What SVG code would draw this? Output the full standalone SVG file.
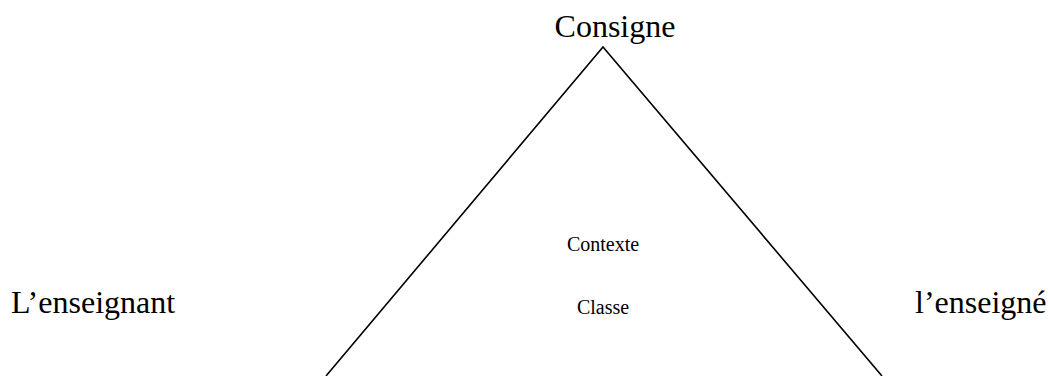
<svg xmlns="http://www.w3.org/2000/svg" width="1048" height="376" viewBox="0 0 1048 376">
<style>
.big{font-family:"Liberation Serif","Times New Roman",serif;font-size:32px;fill:#000}
.small{font-family:"Liberation Serif","Times New Roman",serif;font-size:20px;fill:#000}
.edge{fill:none;stroke:#000;stroke-width:1.6}
</style>
<rect width="1048" height="376" fill="#fff"/>
<g id="connectors">
<polyline class="edge" points="326,376 603,47 882,376"/>
</g>
<g id="consigne"><text class="big" x="615" y="37" text-anchor="middle">Consigne</text></g>
<g id="enseignant"><text class="big" x="11" y="313">L’enseignant</text></g>
<g id="enseigne"><text class="big" x="915" y="313">l’enseigné</text></g>
<g id="contexte"><text class="small" x="603" y="251" text-anchor="middle">Contexte</text></g>
<g id="classe"><text class="small" x="603" y="314" text-anchor="middle">Classe</text></g>
</svg>
